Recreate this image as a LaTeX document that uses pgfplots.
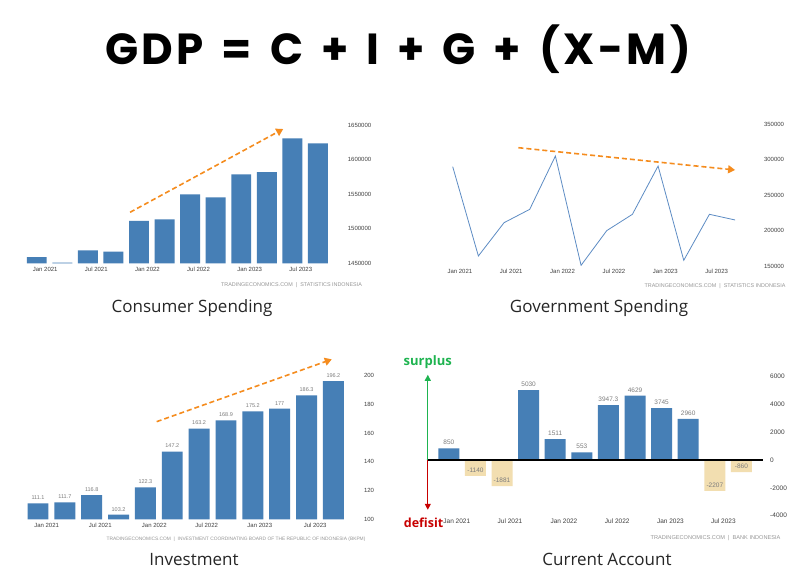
\documentclass[border=0pt]{standalone}
\usepackage{fontspec}
\setmainfont{Liberation Sans}
\newfontfamily\titlefont{Poppins}[LetterSpace=8]
\newfontfamily\subfont{Open Sans}
\usepackage{pgfplots}
\pgfplotsset{compat=1.18}
\usetikzlibrary{arrows.meta}
\definecolor{tebar}{RGB}{70,127,182}
\definecolor{teline}{RGB}{93,140,196}
\definecolor{tebeige}{RGB}{242,222,176}
\definecolor{arrowor}{RGB}{245,140,30}
\definecolor{lblgray}{RGB}{125,125,125}
\definecolor{srcgray}{RGB}{150,150,150}
\definecolor{surgreen}{RGB}{30,180,80}
\definecolor{defred}{RGB}{200,0,0}
\tikzset{
  trend/.style={arrowor, line width=1.6pt, dash pattern=on 5pt off 3pt,
    -{Triangle[length=7pt,width=8pt]}},
}
\pgfplotsset{
  tepanel/.style={
    scale only axis,
    anchor=south west,
    axis line style={draw=none},
    major tick length=0pt,
    tick style={draw=none},
    yticklabel pos=right,
    scaled y ticks=false,
    ticklabel style={font=\fontsize{6}{7}\selectfont, text=black!75},
    /pgf/number format/assume math mode=true,
    xtick={0.33,2.33,4.33,6.33,8.33,10.33},
    xticklabels={Jan 2021,Jul 2021,Jan 2022,Jul 2022,Jan 2023,Jul 2023},
    xmin=-0.6, xmax=11.6,
    clip mode=individual,
  },
  vals/.style={nodes near coords, point meta=explicit symbolic,
    every node near coord/.append style={text=lblgray}},
}
\begin{document}
\begin{tikzpicture}
\fill[white] (0,0) rectangle (800pt,585pt);
\path[use as bounding box] (0,0) rectangle (800pt,585pt);

\node[anchor=base, font=\titlefont\bfseries\fontsize{43.5}{46}\selectfont] at (398pt,520.7pt) {\spaceskip=18pt\relax GDP = C + I + G + (X-M)};

% Consumer spending
\begin{axis}[tepanel, at={(21.4pt,321.7pt)}, width=311.9pt, height=138.3pt,
  ymin=1450000, ymax=1650000,
  ytick={1450000,1500000,1550000,1600000,1650000},
  yticklabels={1450000,1500000,1550000,1600000,1650000},
  yticklabel style={xshift=11pt}]
\addplot[ybar, bar width=0.78, fill=tebar, draw=none] coordinates {
 (0,1459000) (1,1451000) (2,1468800) (3,1466900) (4,1511200) (5,1513600)
 (6,1549800) (7,1545400) (8,1578700) (9,1582000) (10,1630700) (11,1623500)};
\draw[trend] (axis cs:3.65,1523750) -- (axis cs:9.64,1644200);
\end{axis}
\node[font=\fontsize{5.4}{6}\selectfont, text=srcgray] at (291.5pt,300pt) {TRADINGECONOMICS.COM\ \ |\ \ STATISTICS INDONESIA};
\node[anchor=base, font=\subfont\fontsize{17}{20}\selectfont, text=black!85] at (192pt,272.3pt) {Consumer Spending};

% Government spending
\begin{axis}[tepanel, at={(437.3pt,319pt)}, width=313.2pt, height=142pt,
  ymin=150000, ymax=350000,
  ytick={150000,200000,250000,300000,350000},
  yticklabels={150000,200000,250000,300000,350000},
  xtick={0.28,2.28,4.28,6.28,8.28,10.28},
  yticklabel style={xshift=10pt}]
\addplot[teline, line width=0.8pt] coordinates {
 (0,289900) (1,164100) (2,211000) (3,229800) (4,304900) (5,150900)
 (6,199800) (7,222800) (8,290800) (9,158000) (10,222800) (11,214800)};
\draw[trend] (axis cs:2.56,316600) -- (axis cs:11.0,285200);
\end{axis}
\node[font=\fontsize{5.4}{6}\selectfont, text=srcgray] at (715pt,299.3pt) {TRADINGECONOMICS.COM\ \ |\ \ STATISTICS INDONESIA};
\node[anchor=base, font=\subfont\fontsize{17}{20}\selectfont, text=black!85] at (599pt,272.3pt) {Government Spending};

% Investment
\begin{axis}[tepanel, at={(21.9pt,65.7pt)}, width=327.6pt, height=143.6pt,
  ymin=100, ymax=200, ytick={100,120,140,160,180,200},
  yticklabels={100,120,140,160,180,200},
  xtick={0.32,2.32,4.33,6.28,8.26,10.32},
  yticklabel style={xshift=11pt}]
\addplot[ybar, bar width=0.78, fill=tebar, draw=none, vals,
  every node near coord/.append style={font=\fontsize{5.5}{6}\selectfont}] coordinates {
 (0,111.1)[111.1] (1,111.7)[111.7] (2,116.8)[116.8] (3,103.2)[103.2]
 (4,122.3)[122.3] (5,147.2)[147.2] (6,163.2)[163.2] (7,168.9)[168.9]
 (8,175.2)[175.2] (9,177)[177] (10,186.3)[186.3] (11,196.2)[196.2]};
\draw[trend] (axis cs:4.42,168.0) -- (axis cs:10.94,211.4);
\end{axis}
\node[font=\fontsize{4.85}{5}\selectfont, text=srcgray] at (236pt,46pt) {TRADINGECONOMICS.COM\ \ |\ \ INVESTMENT COORDINATING BOARD OF THE REPUBLIC OF INDONESIA (BKPM)};
\node[anchor=base, font=\subfont\fontsize{17}{20}\selectfont, text=black!85] at (194pt,19.3pt) {Investment};

% Current account
\begin{axis}[tepanel, at={(426.2pt,69.3pt)}, width=336.5pt, height=139pt,
  xmin=-0.85, xmax=11.8, ymin=-4000, ymax=6000,
  ytick={-4000,-2000,0,2000,4000,6000},
  yticklabels={-4000,-2000,0,2000,4000,6000},
  xtick={0.3,2.3,4.33,6.33,8.33,10.32},
  ticklabel style={font=\fontsize{6.5}{7}\selectfont},
  yticklabel style={xshift=4pt}]
\addplot[ybar, bar shift=0pt, bar width=0.79, fill=tebar, draw=none, vals,
  every node near coord/.append style={font=\fontsize{6.5}{7}\selectfont}] coordinates {
 (0,850)[850] (3,5030)[5030] (4,1511)[1511] (5,553)[553] (6,3947.3)[3947.3]
 (7,4629)[4629] (8,3745)[3745] (9,2960)[2960]};
\addplot[ybar, bar shift=0pt, bar width=0.79, fill=tebeige, draw=none, vals,
  every node near coord/.append style={font=\fontsize{6.5}{7}\selectfont}] coordinates {
 (1,-1140)[-1140] (2,-1881)[-1881] (10,-2207)[-2207] (11,-860)[-860]};
\draw[black, line width=2pt] (axis cs:-0.83,0) -- (axis cs:11.8,0);
\draw[surgreen, line width=1.1pt, -{Triangle[length=6pt,width=6pt]}] (axis cs:-0.79,0) -- (axis cs:-0.79,6137);
\draw[defred, line width=1.1pt, -{Triangle[length=6pt,width=6pt]}] (axis cs:-0.79,0) -- (axis cs:-0.79,-3575);
\node[anchor=south, font=\subfont\bfseries\fontsize{13}{14}\selectfont, text=surgreen, inner sep=1pt] at (axis cs:-0.79,6500) {surplus};
\node[anchor=north east, font=\subfont\bfseries\fontsize{12.5}{14}\selectfont, text=defred, inner sep=0pt] at (axis cs:-0.2,-4150) {defisit};
\end{axis}
\node[font=\fontsize{5.6}{6}\selectfont, text=srcgray] at (715.5pt,47pt) {TRADINGECONOMICS.COM\ \ |\ \ BANK INDONESIA};
\node[anchor=base, font=\subfont\fontsize{17}{20}\selectfont, text=black!85] at (607pt,19.3pt) {Current Account};
\end{tikzpicture}
\end{document}
